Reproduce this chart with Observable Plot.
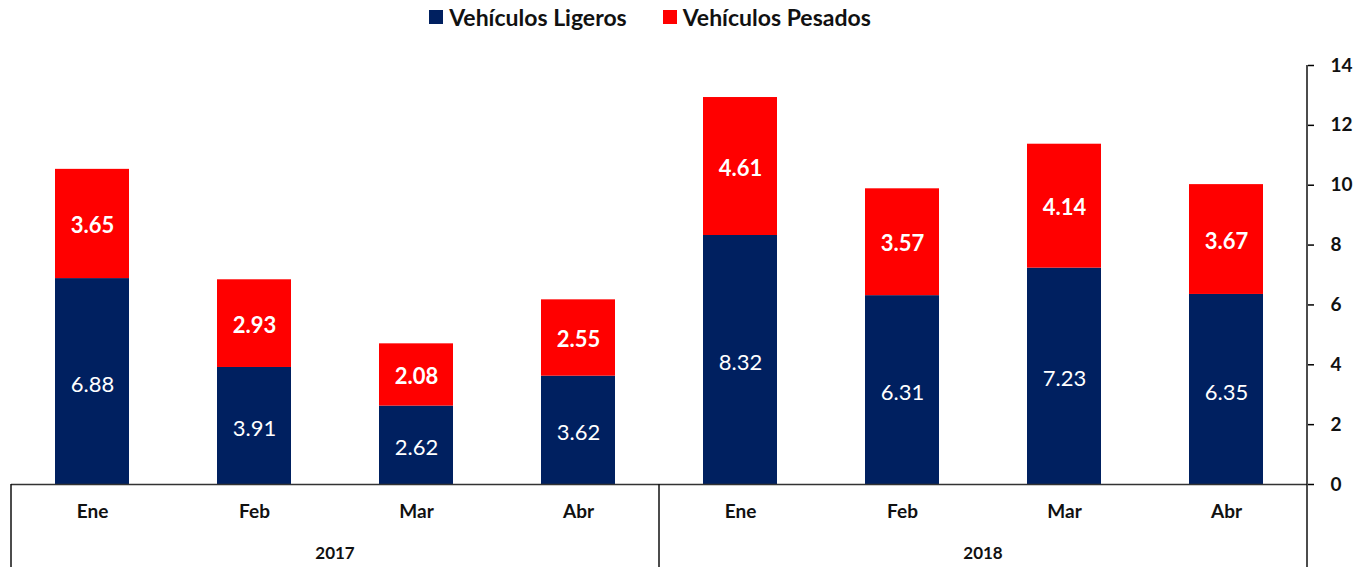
<!DOCTYPE html>
<html>
<head>
<meta charset="utf-8">
<script src="https://cdn.jsdelivr.net/npm/d3@7"></script>
<script src="https://cdn.jsdelivr.net/npm/@observablehq/plot@0.6"></script>
<style>
  html, body { margin: 0; padding: 0; background: #fff; }
  body { width: 1370px; height: 567px; overflow: hidden; font-family: Lato, "Open Sans", sans-serif; }
  #legend { height: 34px; display: flex; justify-content: center; align-items: center; gap: 36px; padding-right: 70px; box-sizing: border-box; font-weight: bold; font-size: 23px; color: #111; }
  #legend .item { display: flex; align-items: center; }
  #legend .sw { width: 14px; height: 14px; margin-right: 6px; display: inline-block; }
  #chart svg { display: block; }
</style>
</head>
<body>
<div id="legend"></div>
<div id="chart"></div>
<script>
const months = ["Ene","Feb","Mar","Abr","Ene","Feb","Mar","Abr"];
const years = ["2017","2017","2017","2017","2018","2018","2018","2018"];
const ligeros = [6.88,3.91,2.62,3.62,8.32,6.31,7.23,6.35];
const pesados = [3.65,2.93,2.08,2.55,4.61,3.57,4.14,3.67];
const seriesNames = ["Vehículos Ligeros","Vehículos Pesados"];
const seriesColors = ["#002060","#FF0000"];
const yTicks = [0,2,4,6,8,10,12,14];

const keys = months.map((m,i) => years[i] + "-" + m);
const data = [];
keys.forEach((k,i) => {
  data.push({key:k, series:seriesNames[0], value:ligeros[i]});
  data.push({key:k, series:seriesNames[1], value:pesados[i]});
});

// legend
const legend = d3.select("#legend");
seriesNames.forEach((s,i) => {
  const it = legend.append("div").attr("class","item");
  it.append("span").attr("class","sw").style("background", seriesColors[i]);
  it.append("span").text(s);
});

const fontFamily = "Lato, 'Open Sans', sans-serif";
const stackOpts = {x:"key", y:"value", z:"series", text: d => d.value.toFixed(2), fill:"white", fontSize:22};

const plot = Plot.plot({
  width: 1370, height: 533,
  marginTop: 31, marginBottom: 83, marginLeft: 11, marginRight: 63,
  style: {fontFamily, background: "white", overflow: "visible"},
  x: {domain: keys, paddingInner: 0.543, paddingOuter: 0.2715, axis: null, label: null},
  y: {domain: [0,14], axis: null, label: null},
  color: {domain: seriesNames, range: seriesColors},
  marks: [
    Plot.barY(data, {x:"key", y:"value", fill:"series"}),
    Plot.text(data, Plot.filter(d => d.series === seriesNames[0], Plot.stackY({...stackOpts, fontWeight:"normal", dy:3}))),
    Plot.text(data, Plot.filter(d => d.series === seriesNames[1], Plot.stackY({...stackOpts, fontWeight:"bold", dy:2}))),
    Plot.ruleY([0], {stroke:"#333", strokeWidth:1.5}),
    Plot.axisX({tickSize:0, tickPadding:20, label: null, tickFormat: k => k.split("-")[1], fontSize:19, fontWeight:"bold", fill:"#111"}),
    Plot.axisY({anchor:"right", label: null, ticks: yTicks, tickSize:6, tickPadding:17, tickFormat: d => String(d), fontSize:19, fontWeight:"bold", fill:"#111", strokeWidth:1.5})
  ]
});

document.getElementById("chart").appendChild(plot);

// Structural lines and year group labels, positioned via Plot's own scales
const sx = plot.scale("x"), sy = plot.scale("y");
const svg = d3.select(plot);
const step = sx.step, bw = sx.bandwidth;
const xLeft = sx.apply(keys[0]) - (step - bw) / 2;
const xRight = sx.apply(keys[keys.length-1]) + bw + (step - bw) / 2;
const y0 = sy.apply(0), yTop = sy.apply(14), yBottom = 533;
const g = svg.append("g").attr("stroke","#111").attr("stroke-width",1.5);
g.append("line").attr("x1",xRight).attr("x2",xRight).attr("y1",yTop).attr("y2",yBottom);
const yearNames = Array.from(new Set(years));
const bounds = [xLeft];
yearNames.forEach(yr => {
  const ks = keys.filter((k,i) => years[i] === yr);
  const a = sx.apply(ks[0]) - (step - bw)/2;
  const b = sx.apply(ks[ks.length-1]) + bw + (step - bw)/2;
  if (a !== xLeft) bounds.push(a);
  svg.append("text")
    .attr("x", (a+b)/2).attr("y", y0 + 75)
    .attr("text-anchor","middle")
    .attr("font-family", fontFamily).attr("font-size", 17).attr("font-weight","bold").attr("fill","#111")
    .text(yr);
});
bounds.forEach(x => g.append("line").attr("x1",x).attr("x2",x).attr("y1",y0).attr("y2",yBottom));
</script>
</body>
</html>
